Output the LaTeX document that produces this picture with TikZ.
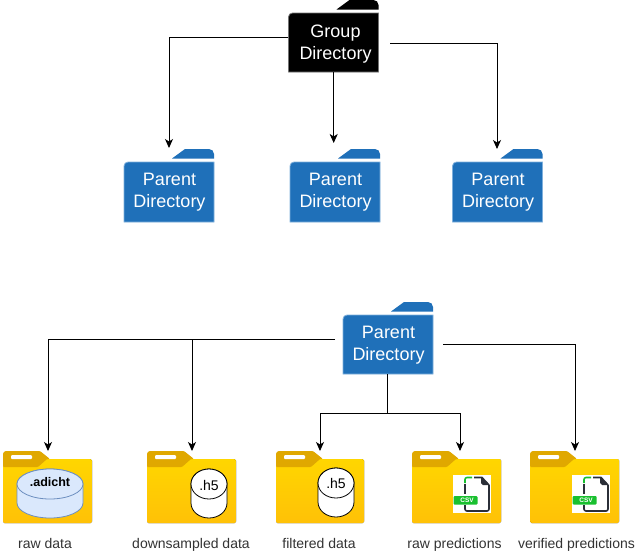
\documentclass[tikz,border=0pt]{standalone}
\usepackage{fontspec}
\setmainfont{Liberation Sans}
\usetikzlibrary{arrows.meta,calc}
\definecolor{fblue}{HTML}{1F70B9}
\definecolor{fblueedge}{HTML}{7FB0DC}
\definecolor{fyeltop}{HTML}{FFD600}
\definecolor{fyelbot}{HTML}{FFC107}
\definecolor{ftab}{HTML}{E0A800}
\definecolor{cylfill}{HTML}{DAE8FC}
\definecolor{cylline}{HTML}{6C8EBF}
\definecolor{csvgreen}{HTML}{19C02F}
\definecolor{csvdark}{HTML}{2B2F38}
\tikzset{
  conn/.style={draw=black,line width=0.9pt,-{Stealth[length=9pt,width=8pt,inset=2.5pt]}},
  wire/.style={draw=black,line width=0.9pt},
  foldertext/.style={font=\fontsize{18}{22}\selectfont,align=center,inner sep=0pt,text=white},
  folderbox/.style={inner sep=0pt,minimum width=90pt,minimum height=#1},
  filelabel/.style={font=\fontsize{14}{16}\selectfont,inner sep=0pt,text=black!80,anchor=base},
  cyltext/.style={font=\fontsize{14}{16}\selectfont,inner sep=0pt,text=black},
  cylbold/.style={font=\fontsize{12.5}{14}\selectfont\bfseries,inner sep=0pt,text=black},
}
% name, left x, tab top y, fill, edge, height
\newcommand{\dirfolder}[6]{%
  \begin{scope}[shift={(#2,#3)}]
    \fill[#4] (48,9.5) -- (61,0) -- (85,0) arc[start angle=90,end angle=0,radius=5pt] -- (90,9.5) -- cycle;
    \path[fill=#4,draw=#5,line width=0.8pt] (0,#6) -- (0,17) arc[start angle=180,end angle=90,radius=4pt] -- (90,13) -- (90,#6) -- cycle;
  \end{scope}
  \node[folderbox=#6pt,anchor=north west] (#1) at (#2,#3) {};
}
% name, left x, width
\newcommand{\yelfolder}[3]{%
  \begin{scope}[shift={(#2,451)}]
    \fill[top color=fyeltop,bottom color=fyelbot,rounded corners=1.5pt] (0,8) rectangle (#3,72);
    \fill[ftab,rounded corners=1pt] (0,16) -- (0,2) -- (2,0) -- (37,0) -- (47,8) -- (44,8) -- (35,16) -- cycle;
    \fill[white,rounded corners=1pt] (8,4) rectangle (29,8);
  \end{scope}
  \node[inner sep=0pt,minimum width=#3pt,minimum height=72pt,anchor=north west] (#1) at (#2,451) {};
}
% cx, rx, top-ellipse centre y, fill, line
\newcommand{\cyl}[5]{%
  \path[fill=#4,draw=#5,line width=0.8pt] (#1-#2,#3) -- (#1-#2,#3+19) arc[start angle=180,end angle=360,x radius=#2pt,y radius=15pt] -- (#1+#2,#3) arc[start angle=0,end angle=180,x radius=#2pt,y radius=15pt] -- cycle;
  \path[draw=#5,line width=0.8pt,fill=#4] (#1,#3) ellipse[x radius=#2pt,y radius=15pt];
}
% name, left x of white square
\newcommand{\csvicon}[2]{%
  \begin{scope}[shift={(#2,475)}]
    \fill[white] (0,0) rectangle (38,38);
    \draw[csvdark,line width=1.6pt] (12,9) -- (12,19);
    \draw[csvgreen,line width=1.6pt,rounded corners=2pt] (12,8) -- (12,2.5) -- (19,2.5);
    \draw[csvdark,line width=1.6pt,rounded corners=2pt] (12,30) -- (12,36) -- (36,36) -- (36,10);
    \fill[csvdark] (28,2) -- (36,10) -- (30,10) -- (28,8) -- cycle;
    \draw[csvdark,line width=1.6pt] (21,2.5) -- (29,2.5) -- (36,10);
    \fill[csvgreen,rounded corners=1pt] (0.5,21) rectangle (24.5,29.5);
    \node[inner sep=0pt,text=white,font=\fontsize{6.5}{7}\selectfont\bfseries] (#1) at (14,25.3) {CSV};
  \end{scope}
}
\begin{document}
\begin{tikzpicture}[x=1pt,y=-1pt]
\useasboundingbox (0,0) rectangle (644,554);
\fill[white] (0,0) rectangle (644,554);

% directory folders
\dirfolder{g}{288.5}{0}{black}{black!55}{72}
\dirfolder{p1}{124}{149}{fblue}{fblueedge}{73}
\dirfolder{p2}{290}{149}{fblue}{fblueedge}{73}
\dirfolder{p3}{452.5}{149}{fblue}{fblueedge}{73}
\dirfolder{pm}{343}{302}{fblue}{fblueedge}{72}
\node[foldertext] (gt) at (335.5,44.5) {Group\\Directory};
\node[foldertext] (p1t) at (169.5,192.5) {Parent\\Directory};
\node[foldertext] (p2t) at (335.5,192.5) {Parent\\Directory};
\node[foldertext] (p3t) at (498,192.5) {Parent\\Directory};
\node[foldertext] (pmt) at (388.5,345.5) {Parent\\Directory};

% data folders
\yelfolder{d1}{3}{89}
\yelfolder{d2}{147}{89}
\yelfolder{d3}{276}{88}
\yelfolder{d4}{412}{89}
\yelfolder{d5}{530}{89}

\cyl{50}{33}{484}{cylfill}{cylline}
\node[cylbold] (c1) at (50,482) {.adicht};
\cyl{209}{18}{484}{white}{black}
\node[cyltext] (c2) at (209,485) {.h5};
\cyl{336}{18}{483}{white}{black}
\node[cyltext] (c3) at (336,483.5) {.h5};
\csvicon{i4}{453}
\csvicon{i5}{572}

\node[filelabel] (l1) at (45,548) {raw data};
\node[filelabel] (l2) at (191,548) {downsampled data};
\node[filelabel] (l3) at (319,548) {filtered data};
\node[filelabel] (l4) at (454.5,548) {raw predictions};
\node[filelabel] (l5) at (576.5,548) {verified predictions};

% connectors
\coordinate (gL) at (288,37);
\coordinate (gR) at (390,43);
\coordinate (gB) at (333.7,72);
\coordinate (e1) at (169,148);
\coordinate (e2) at (333.7,143);
\coordinate (e3) at (497,149);
\draw[conn] (gL) -| (e1);
\draw[conn] (gB) -- (e2);
\draw[conn] (gR) -| (e3);

\coordinate (mL) at (335,339);
\coordinate (mR) at (443,344);
\coordinate (mB) at (387.8,374);
\coordinate (mJ) at (387.8,413);
\coordinate (t1) at (48,451);
\coordinate (t2) at (192,451);
\coordinate (t3) at (320,451);
\coordinate (t4) at (460,451);
\coordinate (t5) at (575,451);
\draw[conn] (mL) -| (t1);
\draw[conn] (t2 |- mL) -- (t2);
\draw[conn] (mR) -| (t5);
\draw[wire] (mB) -- (mJ);
\draw[conn] (mJ) -| (t3);
\draw[conn] (mJ) -| (t4);
\end{tikzpicture}
\end{document}
